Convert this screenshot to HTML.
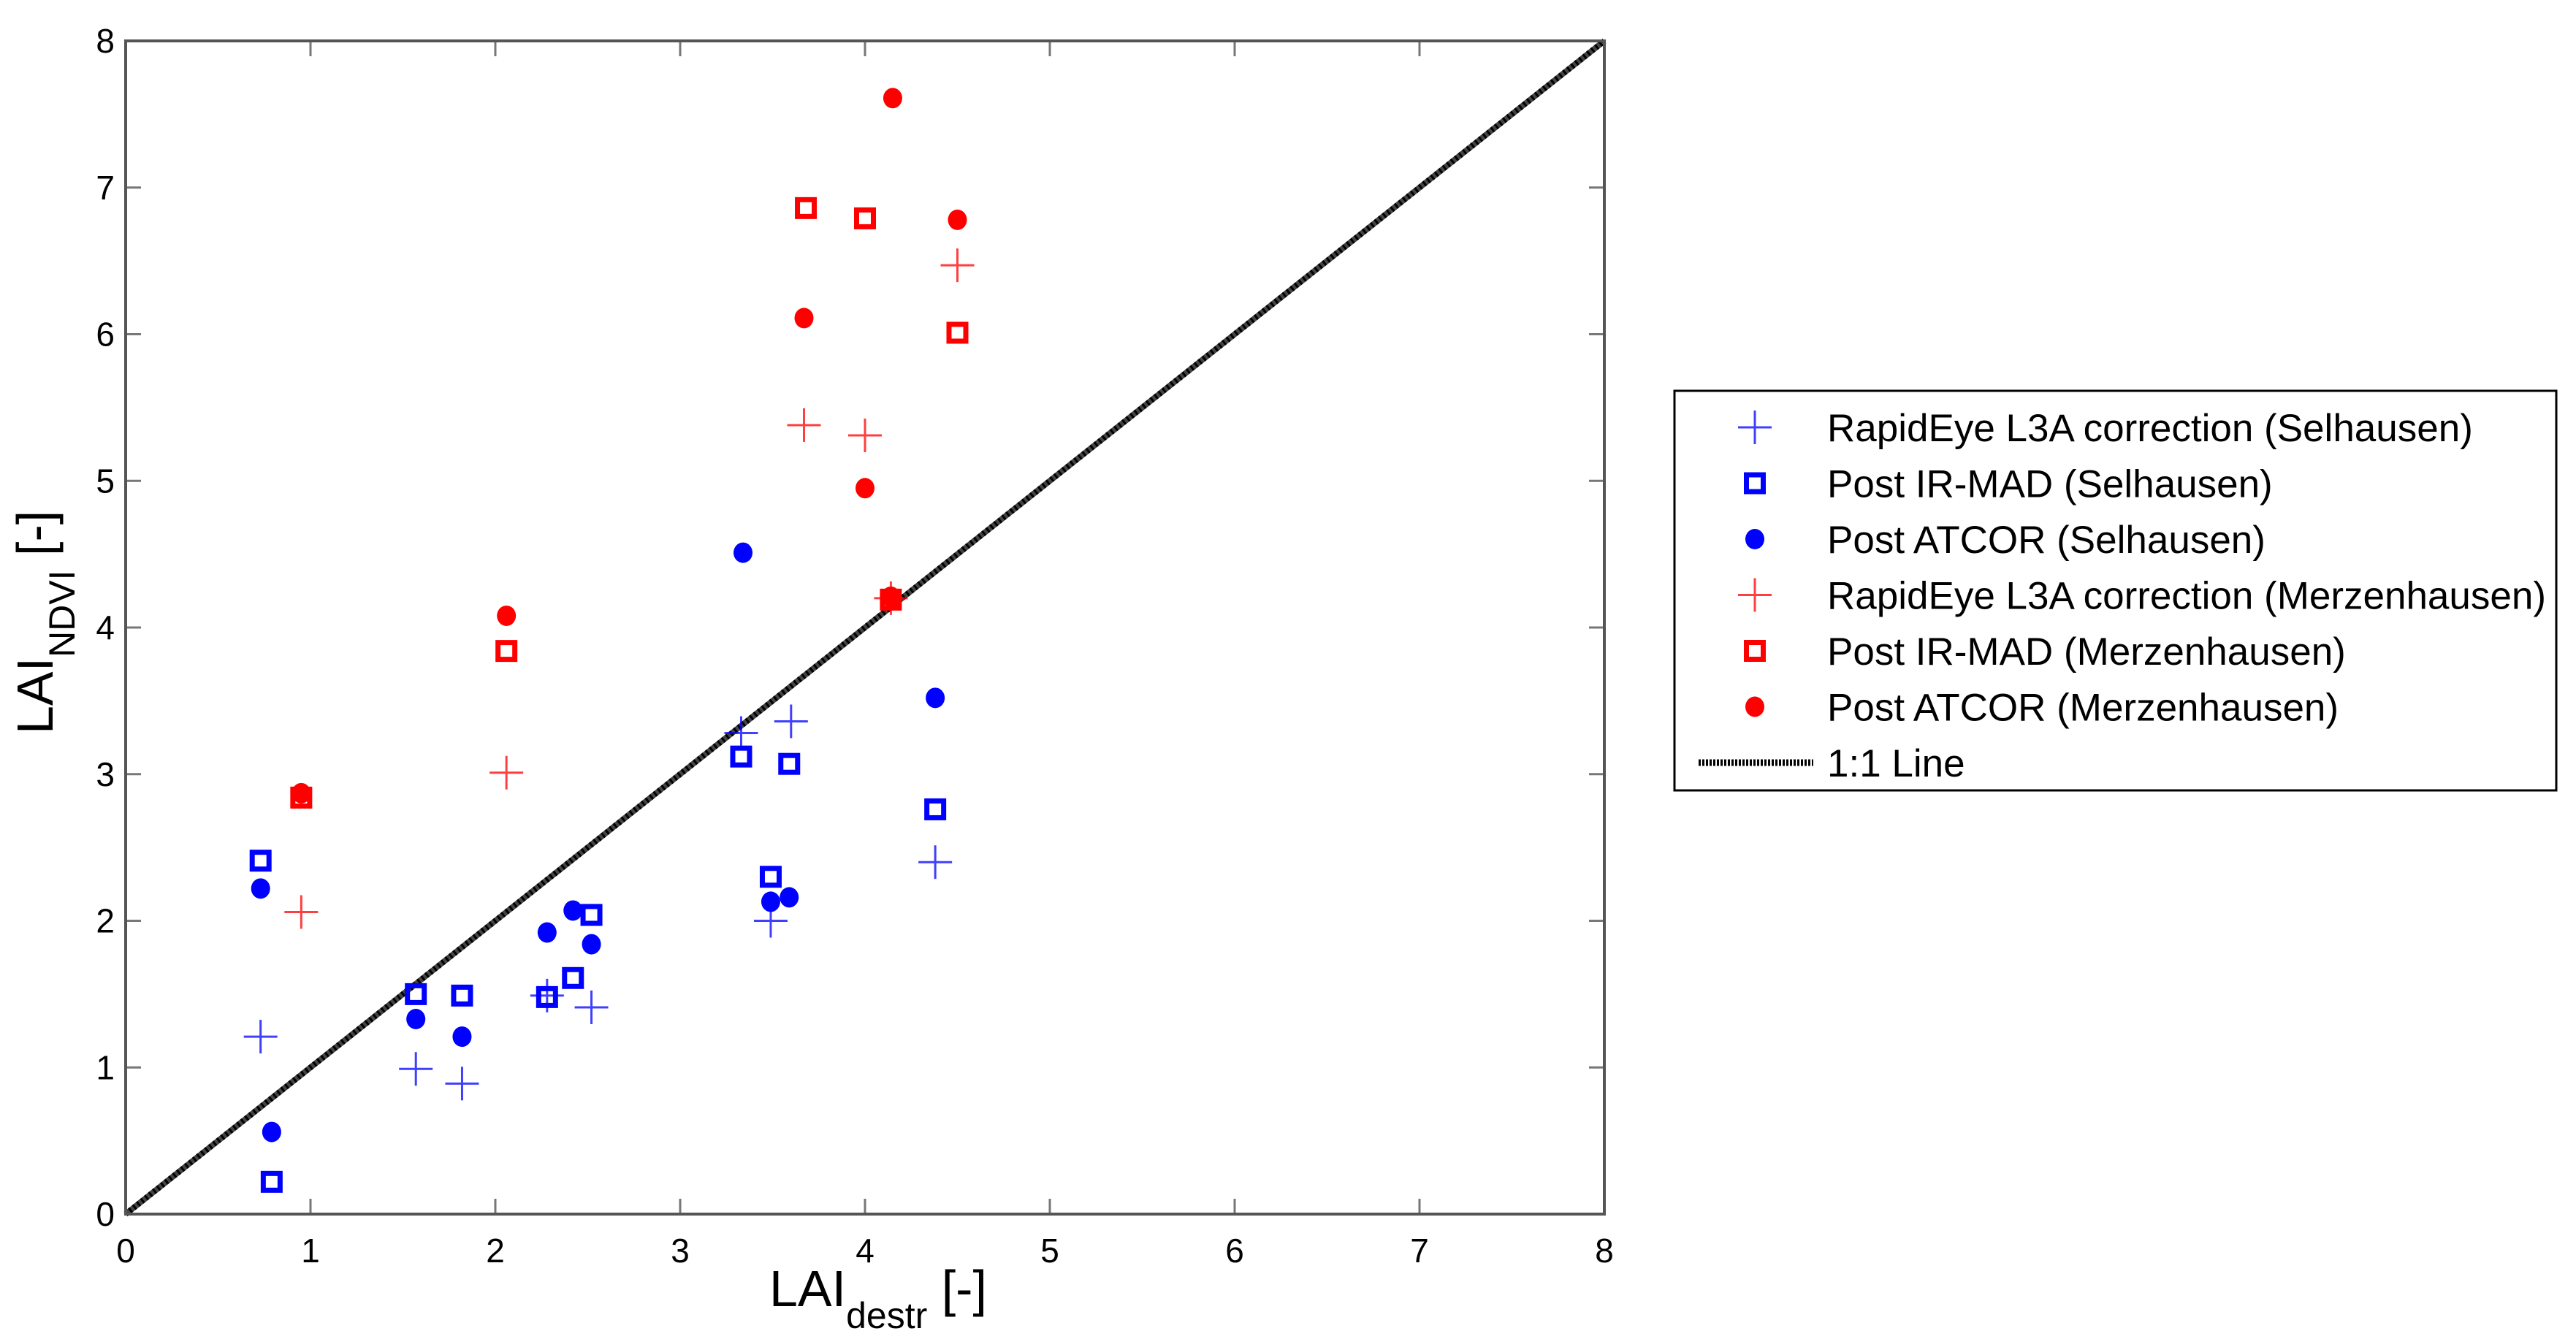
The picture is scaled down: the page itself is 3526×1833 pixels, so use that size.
<!DOCTYPE html>
<html><head><meta charset="utf-8">
<style>
html,body{margin:0;padding:0;background:#fff;}
svg{display:block;font-family:"Liberation Sans",Arial,sans-serif;}
</style></head>
<body>
<svg id="chart" width="3526" height="1833" viewBox="0 0 3526 1833" xmlns="http://www.w3.org/2000/svg">
<g id="plot"></g>
</svg>
<script>
const xTicks = [0,1,2,3,4,5,6,7,8];
const yTicks = [0,1,2,3,4,5,6,7,8];
const selRapidX = [0.73,1.57,1.82,2.28,2.52,3.49,3.60,4.38,3.33];
const selRapidY = [1.21,0.99,0.89,1.49,1.41,2.00,3.36,2.40,3.28];
const selMadX = [0.73,0.79,1.57,1.82,2.28,2.42,2.52,3.33,3.49,3.59,4.38];
const selMadY = [2.41,0.22,1.50,1.49,1.48,1.61,2.04,3.12,2.30,3.07,2.76];
const selAtcorX = [0.73,0.79,1.57,1.82,2.28,2.42,2.52,3.34,3.49,3.59,4.38];
const selAtcorY = [2.22,0.56,1.33,1.21,1.92,2.07,1.84,4.51,2.13,2.16,3.52];
const merRapidX = [0.95,2.06,3.67,4.00,4.50,4.14];
const merRapidY = [2.06,3.01,5.38,5.31,6.47,4.20];
const merMadX = [0.95,2.06,3.68,4.00,4.50,4.14];
const merMadY = [2.84,3.84,6.86,6.79,6.01,4.19];
const merAtcorX = [0.95,2.06,3.67,4.00,4.15,4.50,4.14];
const merAtcorY = [2.87,4.08,6.11,4.95,7.61,6.78,4.21];
const legendLabels = ["RapidEye L3A correction (Selhausen)","Post IR-MAD (Selhausen)","Post ATCOR (Selhausen)","RapidEye L3A correction (Merzenhausen)","Post IR-MAD (Merzenhausen)","Post ATCOR (Merzenhausen)","1:1 Line"];

const L=172,R=2196,T=56,B=1662;
const xs=v=>L+(R-L)*v/8;
const ys=v=>B-(B-T)*v/8;
const NS="http://www.w3.org/2000/svg";
const g=document.getElementById('plot');
function mk(tag,attrs,parent){const e=document.createElementNS(NS,tag);for(const k in attrs)e.setAttribute(k,attrs[k]);(parent||g).appendChild(e);return e;}

let ln=mk('line',{x1:xs(0),y1:ys(0),x2:xs(8),y2:ys(8),stroke:'#444','stroke-width':8});


let ln2=mk('line',{x1:xs(0),y1:ys(0),x2:xs(8),y2:ys(8),stroke:'#000','stroke-width':8,'stroke-dasharray':'3 4'});



xTicks.forEach(t=>{
  const x=xs(t);
  let a=mk('line',{x1:x,y1:B,x2:x,y2:B-21,stroke:'#777','stroke-width':3});
  
  
  let b=mk('line',{x1:x,y1:T,x2:x,y2:T+21,stroke:'#777','stroke-width':3});
  
  
  let tx=mk('text',{x:x,y:1728,'font-size':46,'text-anchor':'middle',fill:'#000'});
  tx.textContent=t;
  
  
});
yTicks.forEach(t=>{
  const y=ys(t);
  let a=mk('line',{x1:L,y1:y,x2:L+21,y2:y,stroke:'#777','stroke-width':3});
  
  
  let b=mk('line',{x1:R,y1:y,x2:R-21,y2:y,stroke:'#777','stroke-width':3});
  
  
  let tx=mk('text',{x:157,y:y+16,'font-size':46,'text-anchor':'end',fill:'#000'});
  tx.textContent=t;
  
  
});
let box=mk('rect',{x:L,y:T,width:R-L,height:B-T,fill:'none',stroke:'#555','stroke-width':4});



function plus(x,y,col,parent){const gg=mk('g',{stroke:col,'stroke-width':3,opacity:0.75},parent);mk('line',{x1:x-23,y1:y,x2:x+23,y2:y},gg);mk('line',{x1:x,y1:y-23,x2:x,y2:y+23},gg);return gg;}
function sq(x,y,col,parent){return mk('rect',{x:x-11.5,y:y-11.5,width:23,height:23,fill:'none',stroke:col,'stroke-width':7},parent);}
function dot(x,y,col,parent){return mk('ellipse',{cx:x,cy:y,rx:13,ry:14,fill:col},parent);}

function series(X,Y,fn,col,name){
  const sg=mk('g',{});
  
  
  X.forEach((v,i)=>{const m=fn(xs(v),ys(Y[i]),col,sg);
    
    });
}
series(merRapidX,merRapidY,plus,'#f00','rapideye-merzenhausen');
series(selRapidX,selRapidY,plus,'#00f','rapideye-selhausen');
series(merAtcorX,merAtcorY,dot,'#f00','atcor-merzenhausen');
series(merMadX,merMadY,sq,'#f00','irmad-merzenhausen');
series(selAtcorX,selAtcorY,dot,'#00f','atcor-selhausen');
series(selMadX,selMadY,sq,'#00f','irmad-selhausen');

let xl=mk('text',{x:1053,y:1788,'font-size':70,fill:'#000'});


xl.innerHTML='LAI<tspan font-size="50" dy="30">destr</tspan><tspan dy="-30"> [-]</tspan>';
let yl=mk('text',{x:0,y:0,'font-size':70,fill:'#000',transform:'translate(72,1005) rotate(-90)'});


yl.innerHTML='LAI<tspan font-size="50" dy="30">NDVI</tspan><tspan dy="-30"> [-]</tspan>';

const lg=mk('g',{});


mk('rect',{x:2292,y:535,width:1207,height:547,fill:'#fff',stroke:'#000','stroke-width':3},lg);
const fns=[plus,sq,dot,plus,sq,dot,null];
const cols=['#00f','#00f','#00f','#f00','#f00','#f00','#000'];
legendLabels.forEach((lab,i)=>{
  const y=585+i*76.5;
  const eg=mk('g',{},lg);
  
  
  if(fns[i]) fns[i](2402,y,cols[i],eg);
  else mk('line',{x1:2325,y1:y,x2:2482,y2:y,stroke:'#000','stroke-width':9,'stroke-dasharray':'3 2'},eg);
  const t=mk('text',{x:2501,y:y+19,'font-size':53,fill:'#000'},eg);
  t.textContent=lab;
});
</script>
</body></html>
